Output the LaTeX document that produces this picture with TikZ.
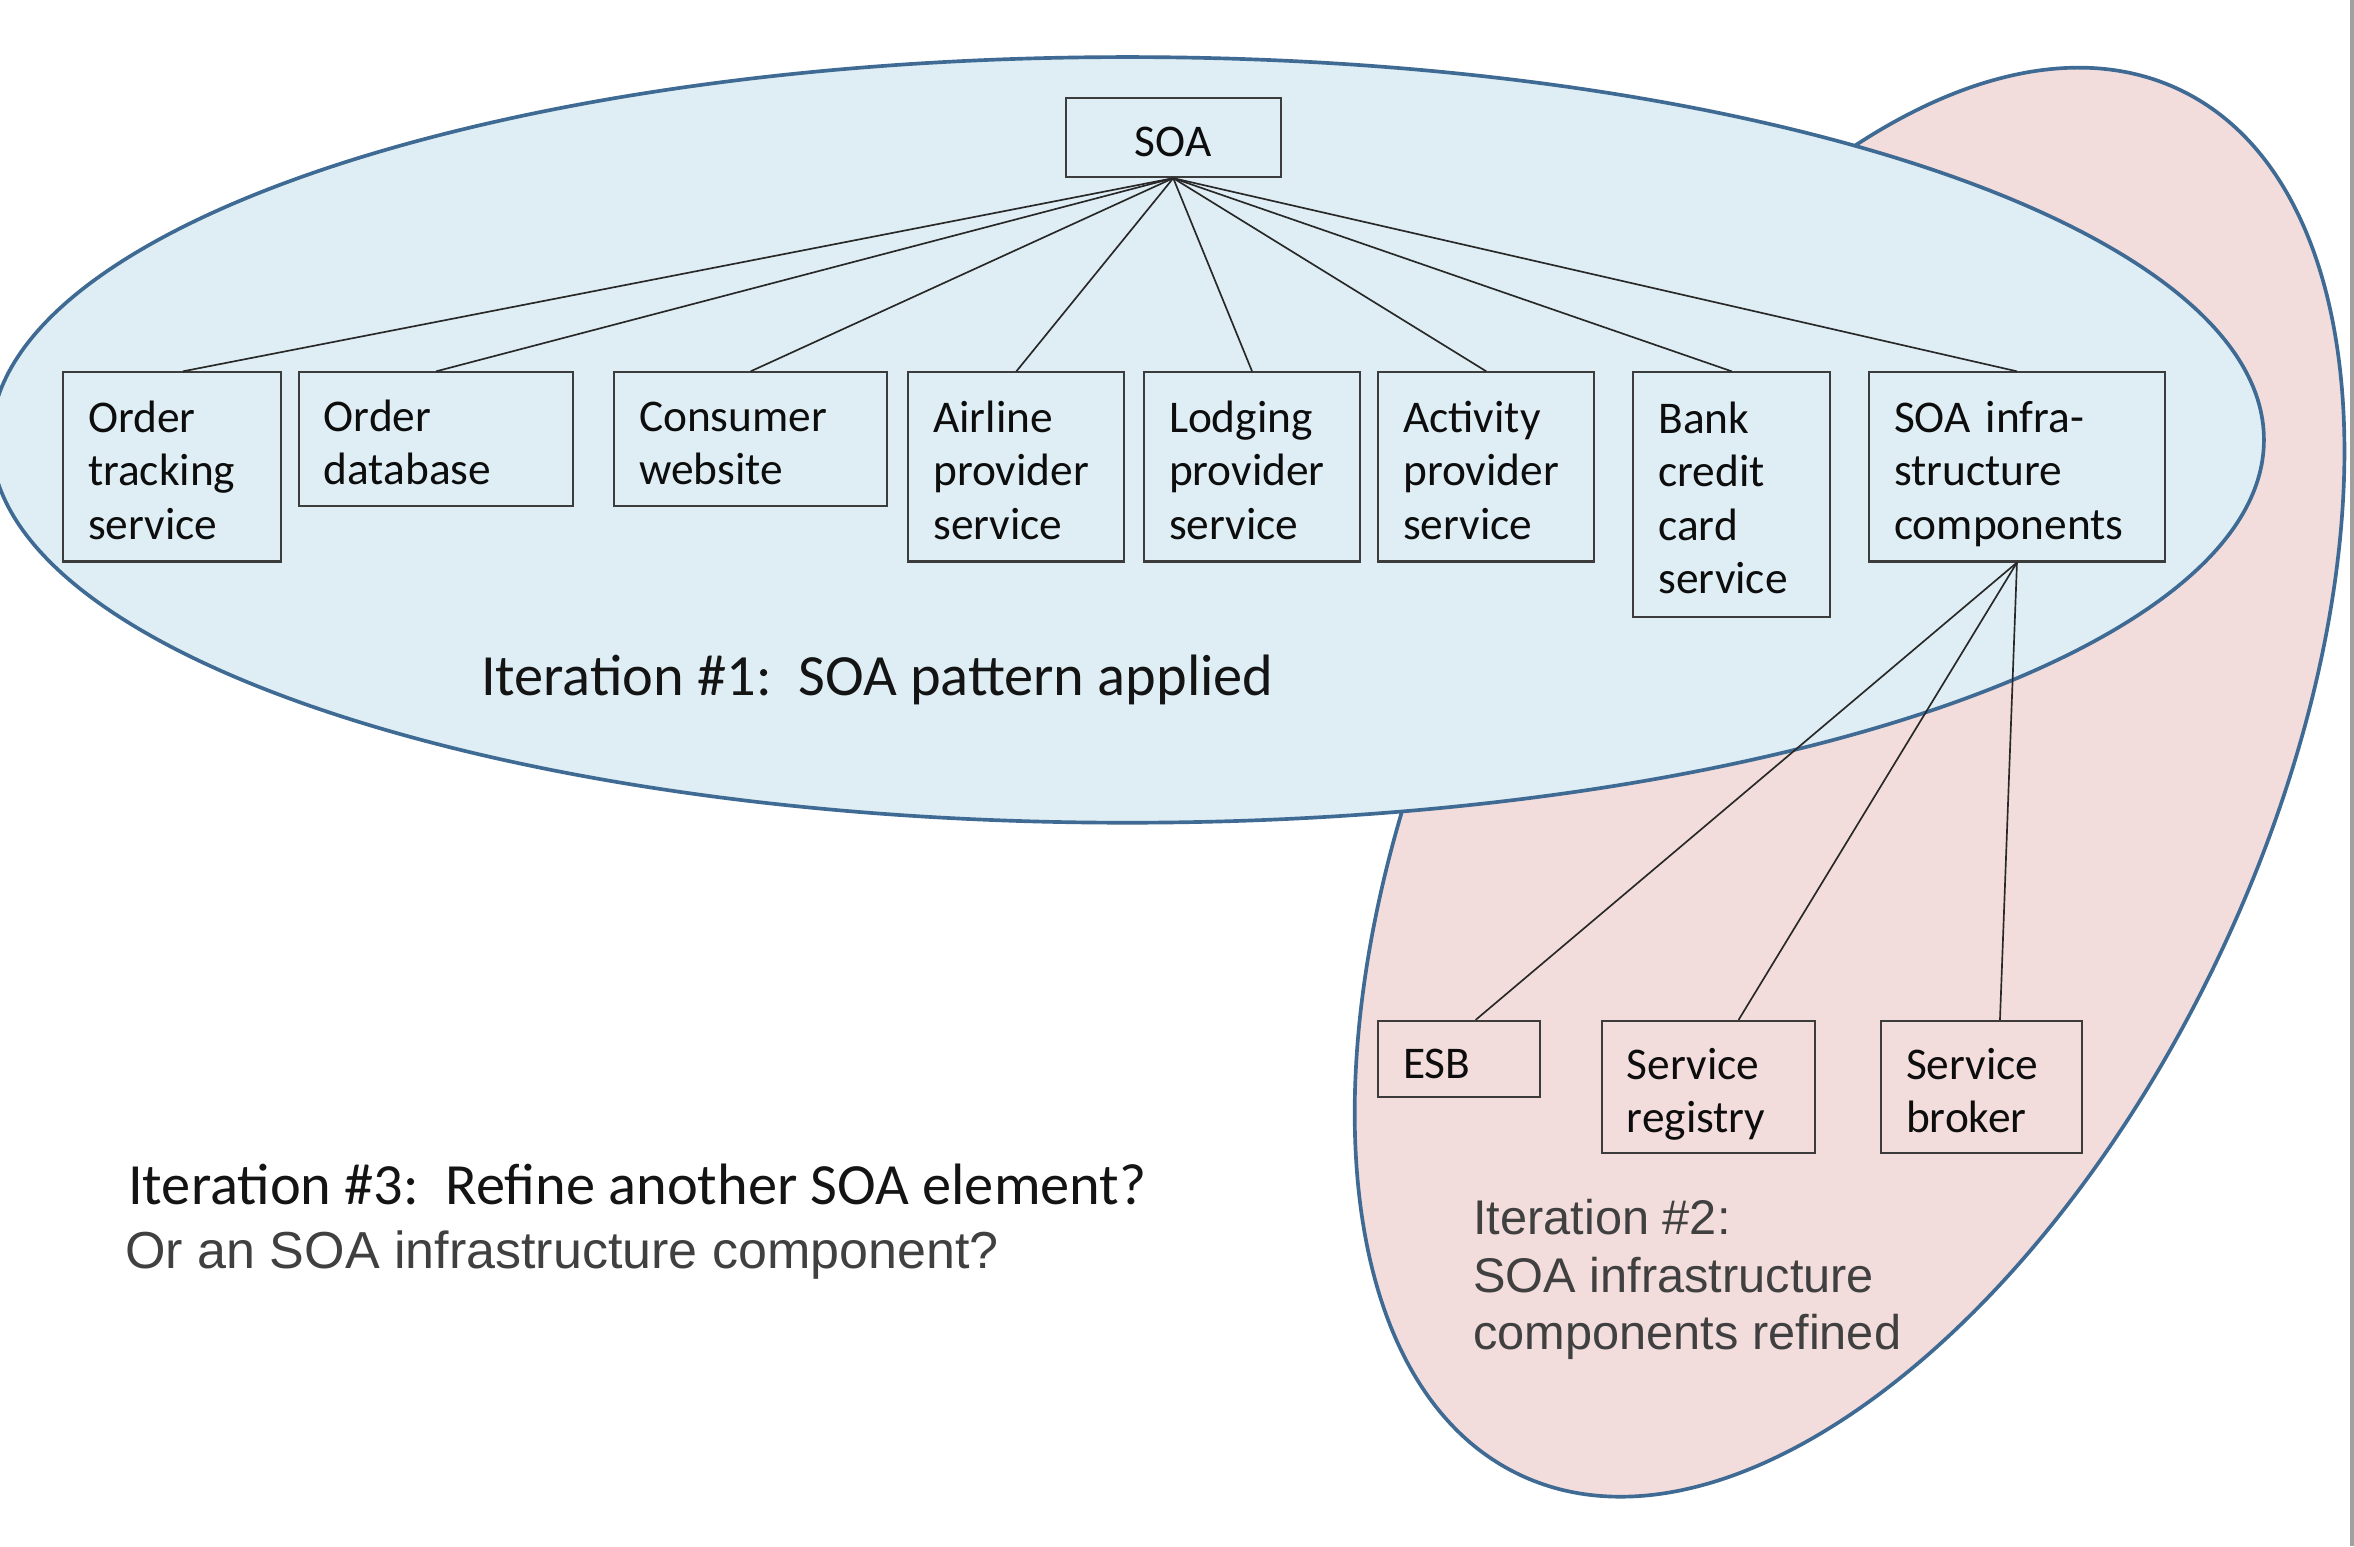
\documentclass[tikz,border=0pt]{standalone}
\usepackage{fontspec}
\setmainfont{Carlito}
\newfontfamily\arialf{Liberation Sans}
\usetikzlibrary{calc}
\definecolor{ellblue}{RGB}{222,238,244}
\definecolor{ellpink}{RGB}{242,221,220}
\definecolor{ellline}{RGB}{62,106,147}
\definecolor{boxline}{RGB}{60,60,60}
\definecolor{conline}{RGB}{40,40,40}
\definecolor{graytext}{RGB}{64,64,64}
\definecolor{framegray}{RGB}{160,160,160}
\newcommand{\topstrut}{\rule{0pt}{14.3pt}}
\newcommand{\botstrut}{\rule[-3pt]{0pt}{3pt}}
\tikzset{
  box/.style={draw=boxline, line width=0.6pt, align=left, inner xsep=7.5pt, inner ysep=0pt,
    font=\fontsize{13.6}{16}\selectfont, text=black!95,
    execute at begin node=\topstrut, execute at end node=\botstrut},
  conn/.style={draw=conline, line width=0.5pt},
  bigtext/.style={anchor=base west, inner sep=0pt, font=\fontsize{17.5}{21}\selectfont, text=black!92},
  graylabel/.style={anchor=base west, inner sep=0pt, text=graytext},
  region/.style={draw=ellline, line width=1.1pt}
}
\newcommand{\bx}[6]{\node[box, minimum height={(#5-#3)*0.45pt}, text width={(#4-#2)*0.45pt-15pt}] (#1) at ({(#2+#4)/2},{(#3+#5)/2}) {#6};}
\begin{document}
\begin{tikzpicture}[x=0.45pt,y=-0.45pt]
\useasboundingbox (0,0) rectangle (1568,1030);
\begin{scope}
\clip (0,0) rectangle (1568,1030);
% regions
\draw[region, fill=ellpink, shift={(1232,521)}, rotate=64.5] (0,0) ellipse [x radius=511, y radius=272];
\draw[region, fill=ellblue] (751,293) ellipse [x radius=757, y radius=255];
% frame line at the right edge
\fill[framegray] (1565.5,0) rectangle (1568,1030);
\end{scope}
% boxes
\node[box, align=center, inner xsep=0pt, minimum width={143*0.45pt}, minimum height={53*0.45pt}] (soa) at (781.5,91.5) {SOA};
\bx{ots}{42}{248}{187}{374}{Order\\tracking\\service}
\bx{odb}{199}{248}{382}{337}{Order\\database}
\bx{cw}{409}{248}{591}{337}{Consumer\\website}
\bx{aps}{605}{248}{749}{374}{Airline\\provider\\service}
\bx{lps}{762}{248}{906}{374}{Lodging\\provider\\service}
\bx{act}{918}{248}{1062}{374}{Activity\\provider\\service}
\bx{bank}{1088}{248}{1219}{411}{Bank\\credit\\card\\service}
\bx{infra}{1245}{248}{1442}{374}{SOA infra-\\structure\\components}
\bx{esb}{918}{680}{1026}{731}{ESB}
\bx{reg}{1067}{680}{1209}{768}{Service\\registry}
\bx{brk}{1253}{680}{1387}{768}{Service\\broker}
% connectors
\draw[conn] (soa.south) -- ($(ots.north west)!0.55!(ots.north east)$);
\foreach \t in {odb,cw,aps,lps,act,bank,infra}
  \draw[conn] (soa.south) -- (\t.north);
\draw[conn] (infra.south) -- ($(esb.north west)!0.6!(esb.north east)$);
\draw[conn] (infra.south) -- ($(reg.north west)!0.64!(reg.north east)$);
\draw[conn] (infra.south) -- ($(brk.north west)!0.59!(brk.north east)$);
% labels
\node[bigtext] (it1) at (320,463) {Iteration \#1:\ \ SOA pattern applied};
\node[bigtext] (it3) at (85,802) {Iteration \#3:\ \ Refine another SOA element?};
\node[graylabel, font=\arialf\fontsize{15.6}{18}\selectfont] (it3b) at (83,845) {Or an SOA infrastructure component?};
\node[graylabel, font=\arialf\fontsize{14.6}{17}\selectfont] (it2a) at (981,822) {Iteration \#2:};
\node[graylabel, font=\arialf\fontsize{14.6}{17}\selectfont] (it2b) at (981,861) {SOA infrastructure};
\node[graylabel, font=\arialf\fontsize{14.6}{17}\selectfont] (it2c) at (981,899) {components refined};
\end{tikzpicture}
\end{document}
